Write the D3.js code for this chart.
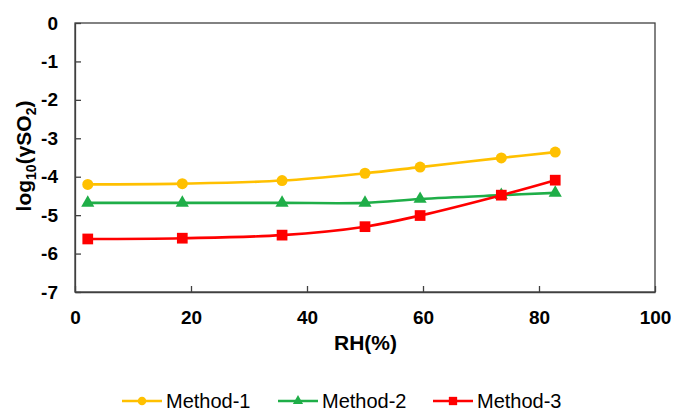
<!DOCTYPE html>
<html><head><meta charset="utf-8">
<script src="https://cdn.jsdelivr.net/npm/d3@7"></script>
<style>body{margin:0;background:#fff}svg{display:block}text{font-family:"Liberation Sans",Arial,sans-serif}</style>
</head><body>
<svg id="c" width="673" height="412"></svg>
<script>
const rh = [2.2, 18.5, 35.7, 50, 59.5, 73.5, 82.8];
const method1 = [-4.20, -4.18, -4.10, -3.91, -3.75, -3.51, -3.36];
const method2 = [-4.68, -4.68, -4.68, -4.68, -4.58, -4.48, -4.42];
const method3 = [-5.62, -5.60, -5.52, -5.30, -5.01, -4.48, -4.09];
const seriesNames = ["Method-1", "Method-2", "Method-3"];
const colors = ["#FFC000", "#1FAE48", "#FF0000"];
const xTicks = [0, 20, 40, 60, 80, 100];
const yTicks = [0, -1, -2, -3, -4, -5, -6, -7];

const svg = d3.select("#c");
const L = 75, R = 655, T = 23, B = 292;
const x = d3.scaleLinear().domain([0, 100]).range([L, R]);
const y = d3.scaleLinear().domain([-7, 0]).range([B, T]);

svg.append("rect").attr("x", L).attr("y", T).attr("width", R - L).attr("height", B - T)
  .attr("fill", "none").attr("stroke", "#404040").attr("stroke-width", 1.3);

const fmt = d => String(d);
const xAxis = svg.append("g").attr("transform", `translate(0,${B})`)
  .call(d3.axisBottom(x).tickValues(xTicks).tickFormat(fmt).tickSizeInner(-6).tickSizeOuter(0).tickPadding(19));
const yAxis = svg.append("g").attr("transform", `translate(${L},0)`)
  .call(d3.axisLeft(y).tickValues(yTicks).tickFormat(fmt).tickSizeInner(-6).tickSizeOuter(0).tickPadding(17));
[xAxis, yAxis].forEach(g => {
  g.select(".domain").attr("stroke", "#404040").attr("stroke-width", 1.3);
  g.selectAll(".tick line").attr("stroke", "#404040").attr("stroke-width", 1.3);
  g.selectAll(".tick text").attr("font-size", 19).attr("font-weight", "bold").attr("fill", "#000")
   .style("font-family", '"Liberation Sans",Arial,sans-serif');
});

const data = [method1, method2, method3];
const line = d3.line().x(d => x(d[0])).y(d => y(d[1])).curve(d3.curveCatmullRom.alpha(0.5));
const symbols = [d3.symbolCircle, d3.symbolTriangle, d3.symbolSquare];
const sizes = [95, 75, 115];

data.forEach((vals, i) => {
  const pts = rh.map((r, j) => [r, vals[j]]);
  svg.append("path").attr("d", line(pts)).attr("fill", "none")
    .attr("stroke", colors[i]).attr("stroke-width", 2.6);
  svg.selectAll(null).data(pts).enter().append("path")
    .attr("d", d3.symbol().type(symbols[i]).size(sizes[i]))
    .attr("transform", d => `translate(${x(d[0])},${y(d[1])})`)
    .attr("fill", colors[i]);
});

svg.append("text").attr("x", 365.5).attr("y", 350).attr("text-anchor", "middle")
  .attr("font-size", 21).attr("font-weight", "bold").text("RH(%)");
const yt = svg.append("text").attr("transform", "translate(31,156) rotate(-90)")
  .attr("text-anchor", "middle").attr("font-size", 21).attr("font-weight", "bold");
yt.append("tspan").text("log");
yt.append("tspan").attr("font-size", 14).attr("dy", 5).text("10");
yt.append("tspan").attr("dy", -5).text("(γSO");
yt.append("tspan").attr("font-size", 14).attr("dy", 5).text("2");
yt.append("tspan").attr("dy", -5).text(")");

const legX = [122, 278, 433];
const legY = 401;
seriesNames.forEach((n, i) => {
  const g = svg.append("g");
  g.append("line").attr("x1", legX[i]).attr("x2", legX[i] + 40).attr("y1", legY).attr("y2", legY)
    .attr("stroke", colors[i]).attr("stroke-width", 2.6);
  g.append("path").attr("d", d3.symbol().type(symbols[i]).size(sizes[i] * 0.6)())
    .attr("transform", `translate(${legX[i] + 20},${legY})`).attr("fill", colors[i]);
  g.append("text").attr("x", legX[i] + 44).attr("y", legY).attr("dy", "0.33em")
    .attr("font-size", 20).attr("fill", "#000").text(n);
});
</script>
</body></html>
